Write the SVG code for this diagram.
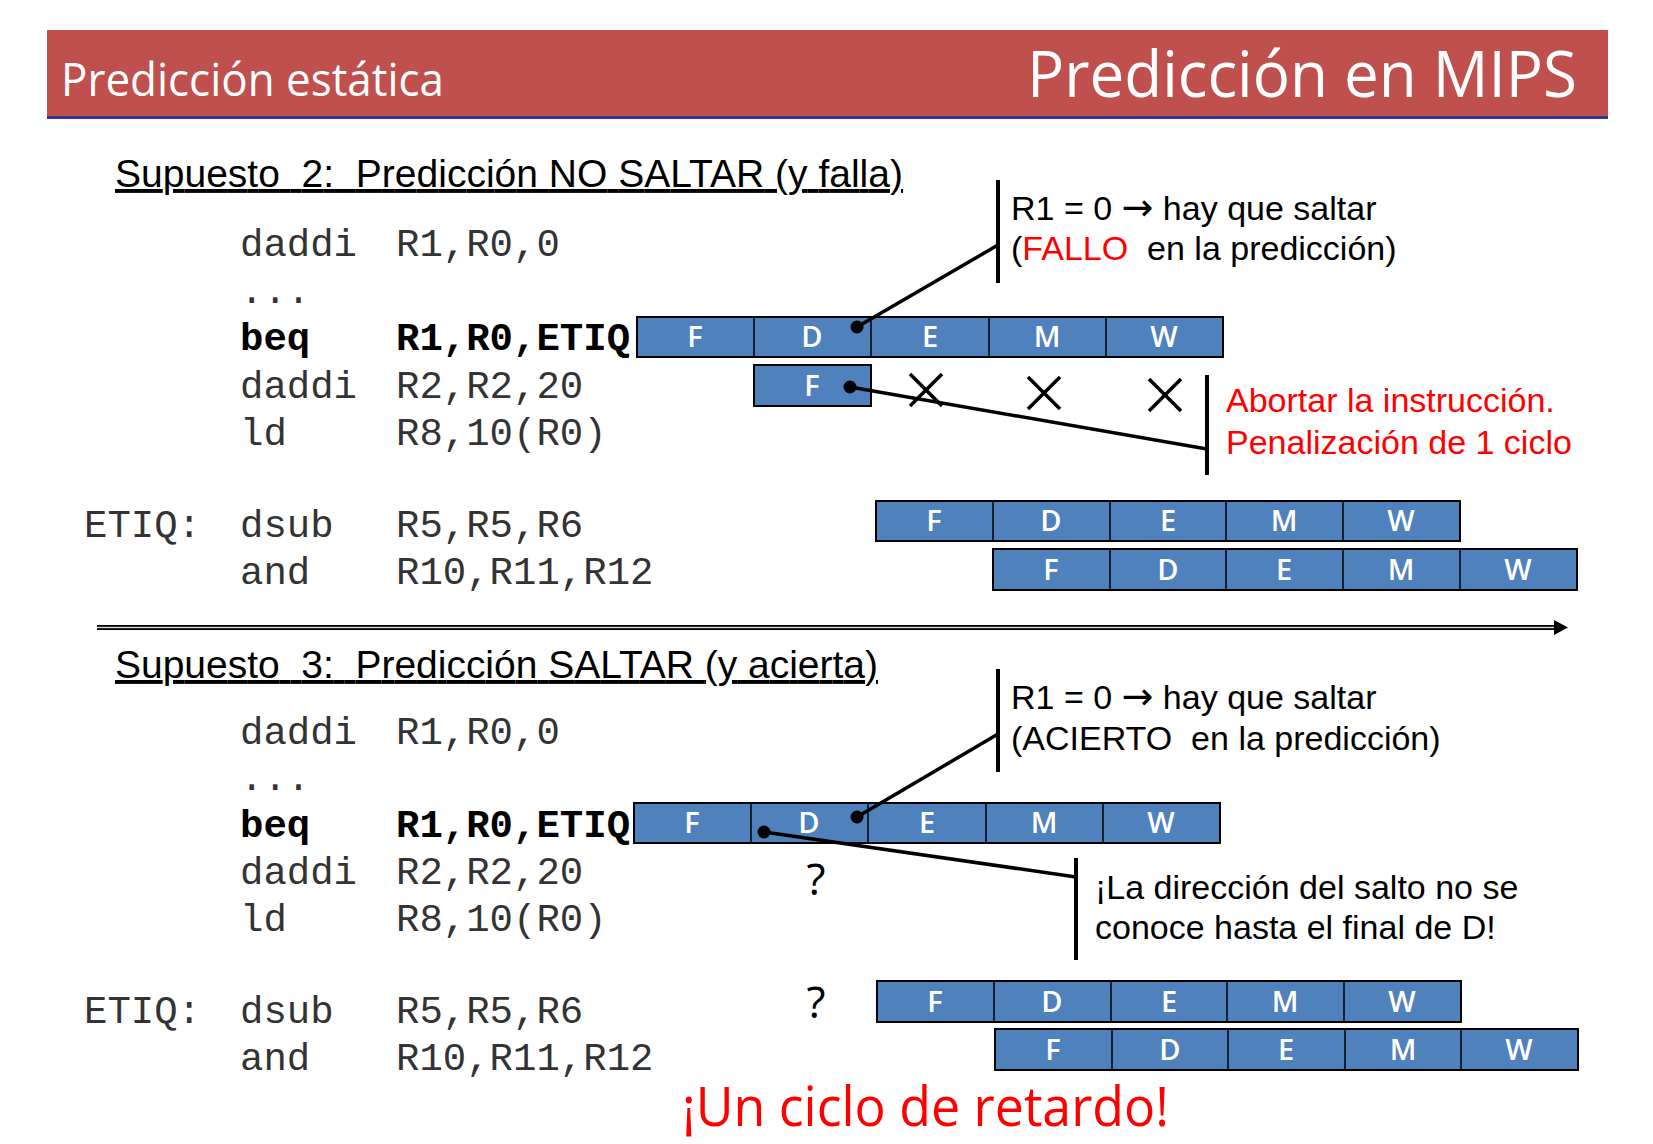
<svg xmlns="http://www.w3.org/2000/svg" width="1653" height="1144" viewBox="0 0 1653 1144">
<style>
.hdr{font-family:"Open Sans","DejaVu Sans",sans-serif;fill:#fff}
.ttl{font-family:"Liberation Sans",Arial,sans-serif;font-size:39px;fill:#000;text-decoration:underline}
.code{font-family:"Liberation Mono","Courier New",monospace;font-size:39px;fill:#333}
.bold{font-weight:bold;fill:#000}
.stage{fill:#4F81BD;stroke:#000;stroke-width:2}
.div{stroke:#000;stroke-width:1.5}
.lt{font-family:"Open Sans","DejaVu Sans",sans-serif;font-size:29px;font-weight:600;fill:#fff;text-anchor:middle}
.note{font-family:"Liberation Sans",Arial,sans-serif;font-size:34px;fill:#000}
.arr{font-family:"DejaVu Sans",sans-serif;font-size:38px}
.red{fill:#FF0000}
.bar{stroke:#000;stroke-width:4;fill:none}
.lead{stroke:#000;stroke-width:3.5;fill:none}
.xm{stroke:#000;stroke-width:3.5}
.q{font-family:"Open Sans","DejaVu Sans",sans-serif;font-size:44px;fill:#000;text-anchor:middle}
</style>
<rect width="1653" height="1144" fill="#fff"/>
<g id="header">
<rect x="47" y="30" width="1561" height="86" fill="#C0504D"/>
<rect x="47" y="116" width="1561" height="3" fill="#333399"/>
<text class="hdr" x="61" y="96" font-size="46" textLength="383" lengthAdjust="spacingAndGlyphs">Predicción estática</text>
<text class="hdr" x="1027" y="97" font-size="64" textLength="550" lengthAdjust="spacingAndGlyphs">Predicción en MIPS</text>
</g>
<g id="title2">
<text class="ttl" x="115" y="187" xml:space="preserve" textLength="788">Supuesto  2:  Predicción NO SALTAR (y falla)</text>
</g>
<g id="code2">
<text class="code" x="240" y="256">daddi</text><text class="code" x="396" y="256">R1,R0,0</text>
<text class="code" x="240" y="303">...</text>
<text class="code bold" x="240" y="350">beq</text><text class="code bold" x="396" y="350">R1,R0,ETIQ</text>
<text class="code" x="240" y="398">daddi</text><text class="code" x="396" y="398">R2,R2,20</text>
<text class="code" x="240" y="445">ld</text><text class="code" x="396" y="445">R8,10(R0)</text>
<text class="code" x="84" y="537">ETIQ:</text><text class="code" x="240" y="537">dsub</text><text class="code" x="396" y="537">R5,R5,R6</text>
<text class="code" x="240" y="584">and</text><text class="code" x="396" y="584">R10,R11,R12</text>
</g>
<g id="pipe2-beq">
<rect class="stage" x="637" y="317" width="586" height="40"/>
<line class="div" x1="754" y1="317" x2="754" y2="357"/><line class="div" x1="871" y1="317" x2="871" y2="357"/><line class="div" x1="989" y1="317" x2="989" y2="357"/><line class="div" x1="1106" y1="317" x2="1106" y2="357"/>
<text class="lt" x="695" y="347">F</text><text class="lt" x="812" y="347">D</text><text class="lt" x="930" y="347">E</text><text class="lt" x="1047" y="347">M</text><text class="lt" x="1164" y="347">W</text>
</g>
<g id="pipe2-daddi">
<rect class="stage" x="754" y="365" width="117" height="41"/>
<text class="lt" x="812" y="396">F</text>
<line class="xm" x1="910" y1="374" x2="942" y2="406"/><line class="xm" x1="942" y1="374" x2="910" y2="406"/>
<line class="xm" x1="1028" y1="377" x2="1060" y2="409"/><line class="xm" x1="1060" y1="377" x2="1028" y2="409"/>
<line class="xm" x1="1149" y1="379" x2="1181" y2="411"/><line class="xm" x1="1181" y1="379" x2="1149" y2="411"/>
</g>
<g id="pipe2-dsub">
<rect class="stage" x="876" y="501" width="584" height="40"/>
<line class="div" x1="993" y1="501" x2="993" y2="541"/><line class="div" x1="1110" y1="501" x2="1110" y2="541"/><line class="div" x1="1226" y1="501" x2="1226" y2="541"/><line class="div" x1="1343" y1="501" x2="1343" y2="541"/>
<text class="lt" x="934" y="531">F</text><text class="lt" x="1051" y="531">D</text><text class="lt" x="1168" y="531">E</text><text class="lt" x="1284" y="531">M</text><text class="lt" x="1401" y="531">W</text>
</g>
<g id="pipe2-and">
<rect class="stage" x="993" y="549" width="584" height="41"/>
<line class="div" x1="1110" y1="549" x2="1110" y2="590"/><line class="div" x1="1226" y1="549" x2="1226" y2="590"/><line class="div" x1="1343" y1="549" x2="1343" y2="590"/><line class="div" x1="1460" y1="549" x2="1460" y2="590"/>
<text class="lt" x="1051" y="580">F</text><text class="lt" x="1168" y="580">D</text><text class="lt" x="1284" y="580">E</text><text class="lt" x="1401" y="580">M</text><text class="lt" x="1518" y="580">W</text>
</g>
<g id="note2a">
<text class="note" x="1011" y="220">R1 = 0 <tspan class="arr">→</tspan> hay que saltar</text>
<text class="note" x="1011" y="260" xml:space="preserve">(<tspan class="red">FALLO</tspan>  en la predicción)</text>
</g>
<g id="note2b">
<text class="note red" x="1226" y="412">Abortar la instrucción.</text>
<text class="note red" x="1226" y="454">Penalización de 1 ciclo</text>
</g>
<g id="divider">
<rect x="97" y="625" width="1458" height="5" fill="#000"/>
<rect x="97" y="626.8" width="1458" height="1.4" fill="#ddd"/>
<polygon points="1554,620 1568,627.5 1554,635" fill="#000"/>
</g>
<g id="title3">
<text class="ttl" x="115" y="678" xml:space="preserve" textLength="763">Supuesto  3:  Predicción SALTAR (y acierta)</text>
</g>
<g id="code3">
<text class="code" x="240" y="744">daddi</text><text class="code" x="396" y="744">R1,R0,0</text>
<text class="code" x="240" y="790">...</text>
<text class="code bold" x="240" y="837">beq</text><text class="code bold" x="396" y="837">R1,R0,ETIQ</text>
<text class="code" x="240" y="884">daddi</text><text class="code" x="396" y="884">R2,R2,20</text>
<text class="code" x="240" y="931">ld</text><text class="code" x="396" y="931">R8,10(R0)</text>
<text class="code" x="84" y="1023">ETIQ:</text><text class="code" x="240" y="1023">dsub</text><text class="code" x="396" y="1023">R5,R5,R6</text>
<text class="code" x="240" y="1070">and</text><text class="code" x="396" y="1070">R10,R11,R12</text>
</g>
<g id="pipe3-beq">
<rect class="stage" x="634" y="803" width="586" height="40"/>
<line class="div" x1="751" y1="803" x2="751" y2="843"/><line class="div" x1="868" y1="803" x2="868" y2="843"/><line class="div" x1="986" y1="803" x2="986" y2="843"/><line class="div" x1="1103" y1="803" x2="1103" y2="843"/>
<text class="lt" x="692" y="833">F</text><text class="lt" x="809" y="833">D</text><text class="lt" x="927" y="833">E</text><text class="lt" x="1044" y="833">M</text><text class="lt" x="1161" y="833">W</text>
</g>
<g id="pipe3-dsub">
<rect class="stage" x="877" y="981" width="584" height="41"/>
<line class="div" x1="994" y1="981" x2="994" y2="1022"/><line class="div" x1="1111" y1="981" x2="1111" y2="1022"/><line class="div" x1="1227" y1="981" x2="1227" y2="1022"/><line class="div" x1="1344" y1="981" x2="1344" y2="1022"/>
<text class="lt" x="935" y="1012">F</text><text class="lt" x="1052" y="1012">D</text><text class="lt" x="1169" y="1012">E</text><text class="lt" x="1285" y="1012">M</text><text class="lt" x="1402" y="1012">W</text>
</g>
<g id="pipe3-and">
<rect class="stage" x="995" y="1029" width="583" height="41"/>
<line class="div" x1="1112" y1="1029" x2="1112" y2="1070"/><line class="div" x1="1228" y1="1029" x2="1228" y2="1070"/><line class="div" x1="1345" y1="1029" x2="1345" y2="1070"/><line class="div" x1="1461" y1="1029" x2="1461" y2="1070"/>
<text class="lt" x="1053" y="1060">F</text><text class="lt" x="1170" y="1060">D</text><text class="lt" x="1286" y="1060">E</text><text class="lt" x="1403" y="1060">M</text><text class="lt" x="1519" y="1060">W</text>
</g>
<g id="unknown">
<text class="q" x="816" y="895">?</text>
<text class="q" x="816" y="1018">?</text>
</g>
<g id="note3a">
<text class="note" x="1011" y="709">R1 = 0 <tspan class="arr">→</tspan> hay que saltar</text>
<text class="note" x="1011" y="750" xml:space="preserve">(ACIERTO  en la predicción)</text>
</g>
<g id="note3b">
<text class="note" x="1095" y="899">¡La dirección del salto no se</text>
<text class="note" x="1095" y="939">conoce hasta el final de D!</text>
</g>
<g id="result">
<text x="682" y="1126" font-family="'Open Sans','DejaVu Sans',sans-serif" font-size="54" fill="#FF0000" textLength="487" lengthAdjust="spacingAndGlyphs">¡Un ciclo de retardo!</text>
</g>
<g id="connectors">
<line class="bar" x1="998" y1="180" x2="998" y2="283"/>
<line class="lead" x1="857" y1="327" x2="998" y2="245"/>
<circle cx="857" cy="327" r="6.5" fill="#000"/>
<line class="bar" x1="1207" y1="375" x2="1207" y2="475"/>
<line class="lead" x1="850" y1="387" x2="1207" y2="449"/>
<circle cx="850" cy="387" r="6.5" fill="#000"/>
<line class="bar" x1="998" y1="669" x2="998" y2="772"/>
<line class="lead" x1="857" y1="817" x2="998" y2="734"/>
<circle cx="857" cy="817" r="6.5" fill="#000"/>
<line class="bar" x1="1076" y1="858" x2="1076" y2="960"/>
<line class="lead" x1="764" y1="832" x2="1076" y2="877"/>
<circle cx="764" cy="832" r="6.5" fill="#000"/>
</g>
</svg>
